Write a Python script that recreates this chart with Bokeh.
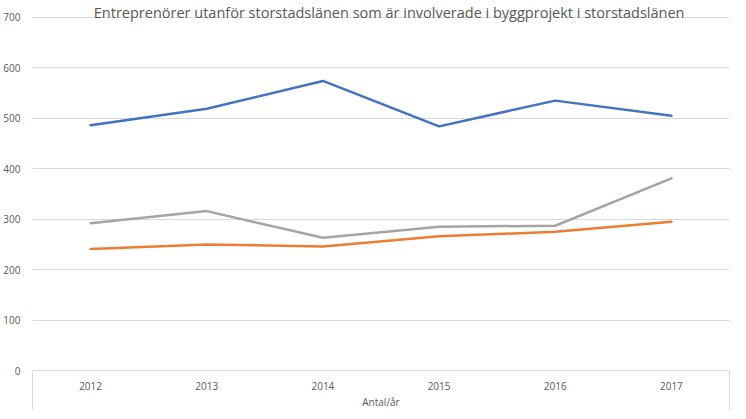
import numpy as np
from bokeh.plotting import figure
from bokeh.models import FixedTicker, Label, Range1d
from bokeh.embed import file_html
from bokeh.resources import INLINE

# ---- data ----
years = ["2012", "2013", "2014", "2015", "2016", "2017"]
series_blue = [486, 519, 574, 484, 535, 505]
series_orange = [241, 250, 246, 266, 275, 295]
series_gray = [292, 316, 263, 285, 287, 381]
y_ticks = [0, 100, 200, 300, 400, 500, 600, 700]
title_text = "Entreprenörer utanför storstadslänen som är involverade i byggprojekt i storstadslänen"
x_label = "Antal/år"

FONT = "Open Sans"
TXT = "#595959"
GRID = "#d9d9d9"

x = list(np.arange(len(years)) + 0.5)

p = figure(width=730, height=411, output_backend="svg", toolbar_location=None,
           x_range=Range1d(0, len(years)), y_range=Range1d(0, 733.5),
           min_border_left=23, min_border_right=1, min_border_top=0,
           min_border_bottom=39)
p.outline_line_color = None
p.background_fill_color = "white"

# x axis drawn as the table box below the plot
p.xaxis.ticker = FixedTicker(ticks=x, minor_ticks=[0, len(years)])
p.xaxis.major_label_overrides = {float(xi): yr for xi, yr in zip(x, years)}
p.xaxis.major_tick_line_color = None
p.xaxis.major_tick_out = 0
p.xaxis.major_tick_in = 0
p.xaxis.minor_tick_in = 0
p.xaxis.minor_tick_out = 39
p.xaxis.minor_tick_line_color = GRID
p.xaxis.axis_line_color = GRID
p.xaxis.major_label_standoff = -28
p.xaxis.major_label_text_font = FONT
p.xaxis.major_label_text_font_size = "10px"
p.xaxis.major_label_text_color = TXT
p.xaxis.axis_label = x_label
p.xaxis.axis_label_standoff = 2
p.xaxis.axis_label_text_font = FONT
p.xaxis.axis_label_text_font_size = "10px"
p.xaxis.axis_label_text_font_style = "normal"
p.xaxis.axis_label_text_color = TXT

p.yaxis.ticker = FixedTicker(ticks=y_ticks)
p.yaxis.axis_line_color = None
p.yaxis.major_tick_line_color = None
p.yaxis.minor_tick_line_color = None
p.yaxis.major_label_standoff = 6
p.yaxis.major_label_text_font = FONT
p.yaxis.major_label_text_font_size = "10px"
p.yaxis.major_label_text_color = TXT

p.xgrid.grid_line_color = None
p.ygrid.ticker = FixedTicker(ticks=y_ticks)
p.ygrid.grid_line_color = GRID
p.ygrid.grid_line_width = 1

for ys, col in [(series_blue, "#4472C4"), (series_orange, "#ED7D31"), (series_gray, "#A5A5A5")]:
    p.line(x, ys, line_color=col, line_width=2.5, line_join="round", line_cap="round")

p.add_layout(Label(x=3.07, y=709.8, text=title_text, text_align="center",
                   text_baseline="alphabetic", text_font=FONT, text_font_size="14.5px",
                   text_color=TXT))

open("out.html", "w").write(file_html(p, INLINE))
